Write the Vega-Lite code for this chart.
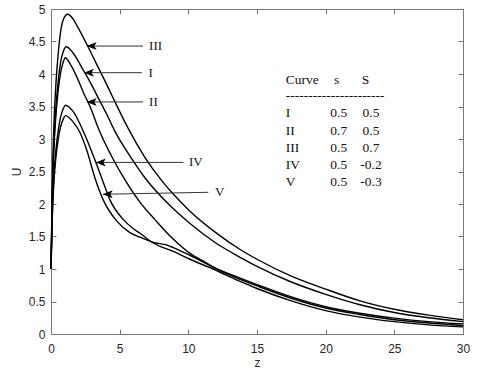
{
  "$schema": "https://vega.github.io/schema/vega-lite/v6.json",
  "width": 412,
  "height": 325,
  "autosize": {"type": "none"},
  "padding": {"left": 51, "top": 9, "right": 17, "bottom": 49},
  "background": "white",
  "config": {"view": {"stroke": null}, "font": "Liberation Sans"},
  "datasets": {
    "curves": [
      {"curve": "III", "z": 0, "U": 1}, {"curve": "III", "z": 0.1, "U": 2.37}, {"curve": "III", "z": 0.2, "U": 3.16}, {"curve": "III", "z": 0.35, "U": 3.82}, {"curve": "III", "z": 0.5, "U": 4.25}, {"curve": "III", "z": 0.7, "U": 4.65}, {"curve": "III", "z": 0.9, "U": 4.84}, {"curve": "III", "z": 1.2, "U": 4.92}, {"curve": "III", "z": 1.6, "U": 4.85}, {"curve": "III", "z": 1.9, "U": 4.74}, {"curve": "III", "z": 2.67, "U": 4.43}, {"curve": "III", "z": 3.3, "U": 4.16}, {"curve": "III", "z": 4.05, "U": 3.84}, {"curve": "III", "z": 4.8, "U": 3.51}, {"curve": "III", "z": 5.6, "U": 3.17}, {"curve": "III", "z": 6.8, "U": 2.73}, {"curve": "III", "z": 8.06, "U": 2.36}, {"curve": "III", "z": 9, "U": 2.13}, {"curve": "III", "z": 10.12, "U": 1.89}, {"curve": "III", "z": 12, "U": 1.56}, {"curve": "III", "z": 13.77, "U": 1.3}, {"curve": "III", "z": 15, "U": 1.15}, {"curve": "III", "z": 17.5, "U": 0.89}, {"curve": "III", "z": 20, "U": 0.69}, {"curve": "III", "z": 22.5, "U": 0.51}, {"curve": "III", "z": 25, "U": 0.38}, {"curve": "III", "z": 27.5, "U": 0.29}, {"curve": "III", "z": 30, "U": 0.22},
      {"curve": "I", "z": 0, "U": 1}, {"curve": "I", "z": 0.1, "U": 2.2}, {"curve": "I", "z": 0.2, "U": 2.88}, {"curve": "I", "z": 0.35, "U": 3.46}, {"curve": "I", "z": 0.5, "U": 3.84}, {"curve": "I", "z": 0.7, "U": 4.18}, {"curve": "I", "z": 0.9, "U": 4.35}, {"curve": "I", "z": 1.12, "U": 4.42}, {"curve": "I", "z": 1.62, "U": 4.32}, {"curve": "I", "z": 2.35, "U": 4.06}, {"curve": "I", "z": 2.84, "U": 3.88}, {"curve": "I", "z": 3.57, "U": 3.58}, {"curve": "I", "z": 4.06, "U": 3.38}, {"curve": "I", "z": 4.6, "U": 3.14}, {"curve": "I", "z": 5.8, "U": 2.72}, {"curve": "I", "z": 6.85, "U": 2.4}, {"curve": "I", "z": 8.5, "U": 2.01}, {"curve": "I", "z": 10.12, "U": 1.7}, {"curve": "I", "z": 12, "U": 1.4}, {"curve": "I", "z": 13.77, "U": 1.18}, {"curve": "I", "z": 15, "U": 1.04}, {"curve": "I", "z": 17.5, "U": 0.8}, {"curve": "I", "z": 20, "U": 0.61}, {"curve": "I", "z": 22.5, "U": 0.45}, {"curve": "I", "z": 25, "U": 0.33}, {"curve": "I", "z": 27.5, "U": 0.25}, {"curve": "I", "z": 30, "U": 0.19},
      {"curve": "II", "z": 0, "U": 1}, {"curve": "II", "z": 0.1, "U": 2.14}, {"curve": "II", "z": 0.2, "U": 2.79}, {"curve": "II", "z": 0.35, "U": 3.34}, {"curve": "II", "z": 0.5, "U": 3.7}, {"curve": "II", "z": 0.7, "U": 4.02}, {"curve": "II", "z": 0.9, "U": 4.19}, {"curve": "II", "z": 1.05, "U": 4.25}, {"curve": "II", "z": 1.38, "U": 4.16}, {"curve": "II", "z": 1.87, "U": 3.96}, {"curve": "II", "z": 2.35, "U": 3.72}, {"curve": "II", "z": 2.84, "U": 3.5}, {"curve": "II", "z": 3.5, "U": 3.14}, {"curve": "II", "z": 4.5, "U": 2.7}, {"curve": "II", "z": 5.39, "U": 2.37}, {"curve": "II", "z": 6.5, "U": 2.02}, {"curve": "II", "z": 7.57, "U": 1.76}, {"curve": "II", "z": 8.8, "U": 1.48}, {"curve": "II", "z": 10.12, "U": 1.24}, {"curve": "II", "z": 11.34, "U": 1.09}, {"curve": "II", "z": 11.9, "U": 1.02}, {"curve": "II", "z": 13.77, "U": 0.84}, {"curve": "II", "z": 15, "U": 0.74}, {"curve": "II", "z": 17.5, "U": 0.55}, {"curve": "II", "z": 20, "U": 0.4}, {"curve": "II", "z": 22.5, "U": 0.3}, {"curve": "II", "z": 25, "U": 0.22}, {"curve": "II", "z": 27.5, "U": 0.17}, {"curve": "II", "z": 30, "U": 0.13},
      {"curve": "IV", "z": 0, "U": 1}, {"curve": "IV", "z": 0.1, "U": 1.88}, {"curve": "IV", "z": 0.2, "U": 2.39}, {"curve": "IV", "z": 0.35, "U": 2.81}, {"curve": "IV", "z": 0.5, "U": 3.09}, {"curve": "IV", "z": 0.7, "U": 3.34}, {"curve": "IV", "z": 0.9, "U": 3.47}, {"curve": "IV", "z": 1.05, "U": 3.52}, {"curve": "IV", "z": 1.62, "U": 3.42}, {"curve": "IV", "z": 2.35, "U": 3.12}, {"curve": "IV", "z": 3.25, "U": 2.65}, {"curve": "IV", "z": 3.81, "U": 2.33}, {"curve": "IV", "z": 4.3, "U": 2.06}, {"curve": "IV", "z": 5.27, "U": 1.76}, {"curve": "IV", "z": 6.0, "U": 1.62}, {"curve": "IV", "z": 6.48, "U": 1.55}, {"curve": "IV", "z": 7.45, "U": 1.4}, {"curve": "IV", "z": 8.9, "U": 1.27}, {"curve": "IV", "z": 10.12, "U": 1.15}, {"curve": "IV", "z": 11.8, "U": 1.0}, {"curve": "IV", "z": 13.77, "U": 0.81}, {"curve": "IV", "z": 15, "U": 0.7}, {"curve": "IV", "z": 17.5, "U": 0.51}, {"curve": "IV", "z": 20, "U": 0.36}, {"curve": "IV", "z": 22.5, "U": 0.26}, {"curve": "IV", "z": 25, "U": 0.19}, {"curve": "IV", "z": 27.5, "U": 0.14}, {"curve": "IV", "z": 30, "U": 0.11},
      {"curve": "V", "z": 0, "U": 1}, {"curve": "V", "z": 0.1, "U": 1.83}, {"curve": "V", "z": 0.2, "U": 2.3}, {"curve": "V", "z": 0.35, "U": 2.7}, {"curve": "V", "z": 0.5, "U": 2.96}, {"curve": "V", "z": 0.7, "U": 3.19}, {"curve": "V", "z": 0.9, "U": 3.31}, {"curve": "V", "z": 1.05, "U": 3.36}, {"curve": "V", "z": 1.62, "U": 3.26}, {"curve": "V", "z": 2.11, "U": 3.1}, {"curve": "V", "z": 2.6, "U": 2.83}, {"curve": "V", "z": 3.2, "U": 2.4}, {"curve": "V", "z": 3.81, "U": 2.06}, {"curve": "V", "z": 4.78, "U": 1.74}, {"curve": "V", "z": 5.75, "U": 1.56}, {"curve": "V", "z": 6.48, "U": 1.49}, {"curve": "V", "z": 7.45, "U": 1.41}, {"curve": "V", "z": 8.4, "U": 1.37}, {"curve": "V", "z": 8.9, "U": 1.33}, {"curve": "V", "z": 10.12, "U": 1.21}, {"curve": "V", "z": 11.8, "U": 1.03}, {"curve": "V", "z": 13.77, "U": 0.86}, {"curve": "V", "z": 15, "U": 0.76}, {"curve": "V", "z": 17.5, "U": 0.57}, {"curve": "V", "z": 20, "U": 0.42}, {"curve": "V", "z": 22.5, "U": 0.32}, {"curve": "V", "z": 25, "U": 0.245}, {"curve": "V", "z": 27.5, "U": 0.19}, {"curve": "V", "z": 30, "U": 0.155}
    ],
    "arrows": [
      {"label": "III", "tipZ": 2.6, "tipU": 4.43, "tailZ": 6.7, "tailU": 4.43, "textZ": 7.14},
      {"label": "I", "tipZ": 2.4, "tipU": 4.02, "tailZ": 6.61, "tailU": 4.02, "textZ": 7.1},
      {"label": "II", "tipZ": 2.6, "tipU": 3.57, "tailZ": 6.7, "tailU": 3.57, "textZ": 7.14},
      {"label": "IV", "tipZ": 3.26, "tipU": 2.64, "tailZ": 9.64, "tailU": 2.64, "textZ": 10.05},
      {"label": "V", "tipZ": 3.77, "tipU": 2.15, "tailZ": 11.46, "tailU": 2.18, "textZ": 11.94}
    ],
    "header": [
      {"t": "Curve", "z": 17.09, "U": 3.906},
      {"t": "s", "z": 20.61, "U": 3.906},
      {"t": "S", "z": 22.63, "U": 3.906},
      {"t": "----------------------", "z": 17.09, "U": 3.66}
    ],
    "table": [
      {"curve": "I", "s": "0.5", "S": "0.5", "U": 3.395},
      {"curve": "II", "s": "0.7", "S": "0.5", "U": 3.128},
      {"curve": "III", "s": "0.5", "S": "0.7", "U": 2.857},
      {"curve": "IV", "s": "0.5", "S": "-0.2", "U": 2.6},
      {"curve": "V", "s": "0.5", "S": "-0.3", "U": 2.344}
    ]
  },
  "layer": [
    {
      "data": {"name": "curves"},
      "mark": {"type": "line", "interpolate": "monotone", "color": "black", "strokeWidth": 1.4},
      "encoding": {
        "x": {"field": "z", "type": "quantitative", "scale": {"domain": [0, 30], "nice": false},
          "axis": {"orient": "bottom", "values": [0, 5, 10, 15, 20, 25, 30], "format": "~g", "labelFlush": false, "grid": false, "title": "z",
            "tickSize": -5, "tickColor": "#777", "domainColor": "#777", "labelPadding": 14, "labelFontSize": 12,
            "labelColor": "#262626", "titleFontSize": 12, "titleFontWeight": "normal", "titleColor": "#262626", "titlePadding": 3}},
        "y": {"field": "U", "type": "quantitative", "scale": {"domain": [0, 5], "nice": false},
          "axis": {"orient": "left", "values": [0, 0.5, 1, 1.5, 2, 2.5, 3, 3.5, 4, 4.5, 5], "format": "~g", "labelFlush": false, "grid": false, "title": "U",
            "tickSize": -5, "tickColor": "#777", "domainColor": "#777", "labelPadding": 11, "labelFontSize": 12,
            "labelColor": "#262626", "titleFontSize": 12, "titleFontWeight": "normal", "titleColor": "#262626", "titlePadding": 5}},
        "detail": {"field": "curve"}
      }
    },
    {
      "data": {"name": "curves"},
      "mark": {"type": "line", "strokeOpacity": 0},
      "encoding": {
        "x": {"field": "z", "type": "quantitative",
          "axis": {"orient": "top", "values": [0, 5, 10, 15, 20, 25, 30], "grid": false, "title": null, "labels": false,
            "tickSize": -5, "tickColor": "#777", "domainColor": "#777"}},
        "y": {"field": "U", "type": "quantitative",
          "axis": {"orient": "right", "values": [0, 0.5, 1, 1.5, 2, 2.5, 3, 3.5, 4, 4.5, 5], "grid": false, "title": null, "labels": false,
            "tickSize": -5, "tickColor": "#777", "domainColor": "#777"}},
        "detail": {"field": "curve"}
      }
    },
    {
      "data": {"name": "arrows"},
      "mark": {"type": "rule", "color": "#333", "strokeWidth": 1},
      "encoding": {
        "x": {"field": "tipZ", "type": "quantitative", "axis": null},
        "x2": {"field": "tailZ"},
        "y": {"field": "tipU", "type": "quantitative", "axis": null},
        "y2": {"field": "tailU"}
      }
    },
    {
      "data": {"name": "arrows"},
      "mark": {"type": "point", "shape": "M0,0L2,-0.8L1.5,0L2,0.8Z", "filled": true, "size": 100, "color": "black", "opacity": 1},
      "encoding": {
        "x": {"field": "tipZ", "type": "quantitative", "axis": null},
        "y": {"field": "tipU", "type": "quantitative", "axis": null}
      }
    },
    {
      "data": {"name": "arrows"},
      "mark": {"type": "text", "align": "left", "baseline": "middle", "font": "Liberation Serif", "fontSize": 13, "color": "#111"},
      "encoding": {
        "x": {"field": "textZ", "type": "quantitative", "axis": null},
        "y": {"field": "tailU", "type": "quantitative", "axis": null},
        "text": {"field": "label"}
      }
    },
    {
      "data": {"name": "header"},
      "mark": {"type": "text", "align": "left", "baseline": "middle", "font": "Liberation Serif", "fontSize": 13.5, "color": "#111"},
      "encoding": {
        "x": {"field": "z", "type": "quantitative", "axis": null},
        "y": {"field": "U", "type": "quantitative", "axis": null},
        "text": {"field": "t"}
      }
    },
    {
      "data": {"name": "table"},
      "mark": {"type": "text", "align": "left", "baseline": "middle", "font": "Liberation Serif", "fontSize": 13.5, "color": "#111"},
      "encoding": {
        "x": {"datum": 17.09, "type": "quantitative", "axis": null},
        "y": {"field": "U", "type": "quantitative", "axis": null},
        "text": {"field": "curve"}
      }
    },
    {
      "data": {"name": "table"},
      "mark": {"type": "text", "align": "center", "baseline": "middle", "font": "Liberation Serif", "fontSize": 13.5, "color": "#111"},
      "encoding": {
        "x": {"datum": 20.95, "type": "quantitative", "axis": null},
        "y": {"field": "U", "type": "quantitative", "axis": null},
        "text": {"field": "s"}
      }
    },
    {
      "data": {"name": "table"},
      "mark": {"type": "text", "align": "center", "baseline": "middle", "font": "Liberation Serif", "fontSize": 13.5, "color": "#111"},
      "encoding": {
        "x": {"datum": 23.3, "type": "quantitative", "axis": null},
        "y": {"field": "U", "type": "quantitative", "axis": null},
        "text": {"field": "S"}
      }
    }
  ],
  "resolve": {"axis": {"x": "independent", "y": "independent"}}
}
